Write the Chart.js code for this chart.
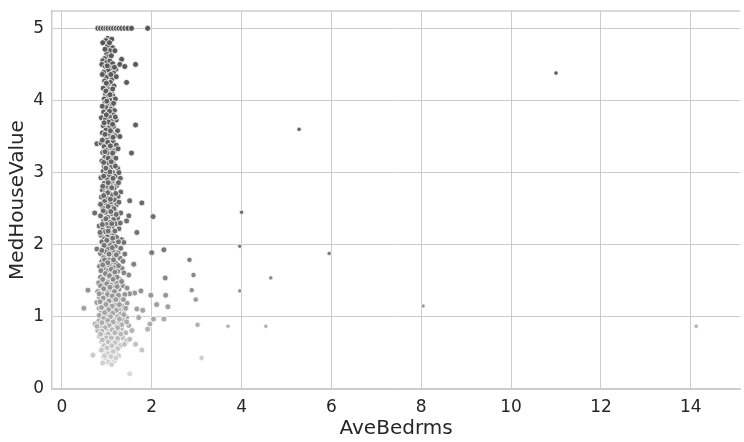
<!DOCTYPE html>
<html>
<head>
<meta charset="utf-8">
<script src="https://cdn.jsdelivr.net/npm/chart.js"></script>
<style>
  body { margin: 0; background: #fff; }
  #wrap { width: 744px; height: 442px; }
</style>
</head>
<body>
<div id="wrap"><canvas id="myChart" width="744" height="442"></canvas></div>
<script>
// tick labels
const xTicks = [0, 2, 4, 6, 8, 10, 12, 14];
const yTicks = [0, 1, 2, 3, 4, 5];

// [AveBedrms, MedHouseValue]
const cappedRow = [
    [0.80, 5.0], [0.86, 5.0], [0.92, 5.0], [0.98, 5.0], [1.03, 5.0], [1.09, 5.0], [1.15, 5.0],
    [1.21, 5.0], [1.27, 5.0], [1.33, 5.0], [1.40, 5.0], [1.47, 5.0], [1.55, 5.0], [1.91, 5.0]
];

const upperCluster = [
    [1.02, 4.86], [0.98, 4.83], [1.11, 4.85], [0.91, 4.80], [1.05, 4.78], [1.02, 4.76], [1.13, 4.73],
    [1.07, 4.69], [1.18, 4.69], [1.00, 4.65], [1.04, 4.61], [0.95, 4.58], [0.91, 4.55], [1.00, 4.53],
    [1.07, 4.55], [1.13, 4.51], [1.33, 4.57], [1.29, 4.50], [1.40, 4.47], [1.64, 4.50], [0.89, 4.50],
    [0.97, 4.47], [1.10, 4.45], [1.20, 4.43], [1.03, 4.42], [0.93, 4.39], [1.15, 4.38], [1.06, 4.35],
    [0.99, 4.32], [1.12, 4.30], [1.21, 4.33], [0.95, 4.27], [1.08, 4.25], [1.44, 4.25], [1.01, 4.21],
    [1.16, 4.20], [0.92, 4.17], [1.05, 4.15], [1.11, 4.12], [0.97, 4.09], [1.02, 4.05], [1.14, 4.06],
    [0.94, 4.02], [1.08, 4.00], [1.19, 4.02],
    [0.96, 3.97], [1.04, 3.95], [1.12, 3.93], [0.99, 3.90], [1.09, 3.88], [1.17, 3.86], [0.93, 3.84],
    [1.02, 3.82], [1.14, 3.80], [1.06, 3.77], [0.88, 3.76], [0.97, 3.74], [1.21, 3.73], [1.10, 3.71],
    [1.01, 3.68], [1.64, 3.66], [0.92, 3.65], [1.15, 3.64], [1.05, 3.62], [0.98, 3.59], [1.24, 3.58],
    [1.11, 3.56], [0.90, 3.55], [1.03, 3.53], [1.18, 3.51], [1.29, 3.50], [0.95, 3.48], [1.08, 3.47],
    [1.00, 3.45], [1.14, 3.43], [0.78, 3.40], [0.87, 3.41], [1.05, 3.39], [1.21, 3.38], [0.94, 3.36],
    [1.10, 3.34], [0.99, 3.31], [1.17, 3.30], [1.55, 3.27], [0.91, 3.28], [1.04, 3.26], [1.12, 3.23],
    [0.96, 3.21], [1.20, 3.20], [1.07, 3.18], [0.89, 3.16], [1.01, 3.13], [1.15, 3.12], [0.94, 3.09],
    [1.09, 3.07], [1.24, 3.06], [1.03, 3.04], [0.92, 3.02], [1.13, 3.00]
];

const middleCluster = [
    [0.98, 2.98], [1.06, 2.96], [1.19, 2.95], [0.87, 2.93], [1.30, 2.92], [1.01, 2.90], [1.12, 2.88],
    [0.94, 2.85], [1.08, 2.83], [1.22, 2.82], [0.99, 2.80], [1.16, 2.78], [0.90, 2.76], [1.05, 2.75],
    [1.31, 2.73], [0.96, 2.71], [1.11, 2.69], [1.25, 2.67], [0.88, 2.66], [1.02, 2.64], [1.17, 2.62],
    [1.51, 2.61], [1.78, 2.58], [0.95, 2.60], [1.08, 2.57], [0.99, 2.54], [1.21, 2.55], [1.13, 2.52],
    [0.91, 2.51], [1.04, 2.49], [1.18, 2.47], [0.73, 2.44], [1.31, 2.44], [0.97, 2.45], [1.10, 2.43],
    [1.49, 2.40], [2.03, 2.39], [0.86, 2.40], [1.02, 2.38], [1.24, 2.37], [1.15, 2.35], [1.44, 2.33],
    [0.93, 2.33], [1.07, 2.31], [0.99, 2.28], [1.20, 2.29], [0.83, 2.26], [1.12, 2.25], [1.04, 2.23],
    [0.91, 2.21], [1.27, 2.22], [1.67, 2.17], [0.96, 2.18], [1.09, 2.16], [1.16, 2.14], [0.87, 2.13],
    [1.01, 2.11], [1.22, 2.10], [0.94, 2.08], [1.06, 2.06], [1.33, 2.07], [0.89, 2.04], [1.13, 2.03],
    [1.38, 2.03], [0.99, 2.01],
    [1.08, 1.99], [1.19, 1.98], [0.78, 1.94], [0.92, 1.96], [1.03, 1.94], [2.00, 1.89], [2.27, 1.93],
    [1.14, 1.92], [0.97, 1.90], [1.25, 1.89], [1.40, 1.87], [0.86, 1.88], [1.09, 1.86], [1.01, 1.84],
    [1.17, 1.83], [0.93, 1.82], [1.30, 1.81], [2.84, 1.79], [1.05, 1.79], [0.89, 1.77], [1.12, 1.76],
    [1.21, 1.74], [1.60, 1.73], [0.98, 1.72], [1.07, 1.70], [0.84, 1.70], [1.15, 1.68], [1.34, 1.67],
    [0.95, 1.66], [1.03, 1.64], [1.24, 1.63], [0.90, 1.61], [1.11, 1.60], [1.49, 1.58], [2.93, 1.58],
    [1.00, 1.58], [1.18, 1.56], [0.86, 1.55], [2.30, 1.54], [1.06, 1.53], [1.28, 1.52], [0.94, 1.51]
];

const lowerCluster = [
    [1.13, 1.49], [1.02, 1.48], [0.82, 1.47], [1.22, 1.46], [0.91, 1.45], [1.09, 1.44], [1.36, 1.43],
    [0.98, 1.42], [1.17, 1.41], [0.87, 1.40], [1.05, 1.39], [0.58, 1.37], [2.89, 1.37], [1.27, 1.38],
    [0.94, 1.37], [1.12, 1.36], [1.76, 1.36], [0.80, 1.35], [1.01, 1.34], [1.62, 1.33], [1.21, 1.33],
    [1.51, 1.32], [1.40, 1.31], [0.90, 1.31], [2.31, 1.30], [1.98, 1.30], [1.08, 1.30], [0.97, 1.28],
    [1.16, 1.27], [0.84, 1.27], [1.30, 1.26], [1.04, 1.25], [2.98, 1.24], [0.92, 1.23], [1.12, 1.22],
    [1.24, 1.21], [0.99, 1.20], [0.78, 1.20], [1.45, 1.19], [1.07, 1.18], [2.11, 1.17], [0.88, 1.17],
    [1.19, 1.16], [1.34, 1.15], [0.95, 1.15], [2.36, 1.14], [1.02, 1.13], [0.49, 1.12], [1.14, 1.12],
    [0.83, 1.12], [1.67, 1.11], [1.27, 1.10], [0.91, 1.10], [1.80, 1.09], [1.09, 1.09], [1.38, 1.08],
    [0.98, 1.07], [1.20, 1.06], [0.86, 1.05], [1.05, 1.04], [1.31, 1.04], [0.93, 1.02], [1.15, 1.02],
    [1.01, 1.00], [1.24, 1.00],
    [1.71, 0.99], [1.44, 0.99], [0.88, 0.99], [2.04, 0.97], [2.27, 0.97], [1.10, 0.98], [0.96, 0.96],
    [1.18, 0.95], [1.36, 0.95], [0.82, 0.94], [1.04, 0.93], [1.27, 0.92], [0.74, 0.90], [1.96, 0.90],
    [3.02, 0.89], [0.92, 0.91], [1.13, 0.90], [0.99, 0.88], [1.21, 0.87], [1.49, 0.88], [0.86, 0.86],
    [1.91, 0.83], [1.07, 0.85], [1.32, 0.84], [0.95, 0.83], [1.16, 0.82], [0.80, 0.81], [1.02, 0.80],
    [1.25, 0.79], [1.42, 0.78], [0.90, 0.78], [1.10, 0.77], [0.97, 0.75], [1.19, 0.74], [0.84, 0.73],
    [1.05, 0.72], [1.35, 0.71], [0.93, 0.70], [1.14, 0.69], [1.01, 0.67], [1.44, 0.67], [1.23, 0.66],
    [0.88, 0.66], [1.08, 0.64], [1.64, 0.62], [0.96, 0.62], [1.17, 0.61], [1.30, 0.60], [1.03, 0.59],
    [0.91, 0.58], [1.11, 0.56], [1.78, 0.54], [0.99, 0.54], [1.21, 0.53], [1.06, 0.51], [0.94, 0.50],
    [0.69, 0.47], [1.14, 0.48], [1.01, 0.46], [1.26, 0.46], [0.93, 0.44], [1.08, 0.42], [0.98, 0.40],
    [1.17, 0.39], [1.04, 0.37], [0.91, 0.36], [1.11, 0.34], [1.51, 0.21]
];

// extra points where the column is densest
const clusterFill = [
    [1.06, 4.80], [0.96, 4.71], [1.10, 4.62], [1.01, 4.48], [1.17, 4.46], [0.90, 4.36], [1.09, 4.36],
    [0.99, 4.24], [1.13, 4.16], [0.98, 4.13], [1.07, 4.08], [1.00, 3.99], [1.15, 3.96], [0.90, 3.92],
    [1.06, 3.85], [0.99, 3.80], [1.19, 3.77], [1.04, 3.70], [0.94, 3.69], [1.13, 3.67], [1.08, 3.58],
    [0.96, 3.53], [1.14, 3.49], [1.02, 3.42], [0.90, 3.45], [1.08, 3.37], [1.25, 3.33], [0.96, 3.29],
    [1.13, 3.27], [1.03, 3.20], [0.93, 3.14], [1.10, 3.15], [1.19, 3.09], [0.98, 3.06], [1.07, 3.01],
    [1.27, 3.00], [0.93, 2.95], [1.14, 2.92], [1.03, 2.86], [1.26, 2.86], [0.91, 2.81], [1.11, 2.79],
    [1.02, 2.72], [1.20, 2.71], [0.93, 2.68], [1.08, 2.63], [1.27, 2.59], [0.86, 2.56], [1.03, 2.53],
    [1.16, 2.50], [0.92, 2.47], [1.09, 2.46], [1.21, 2.42], [0.98, 2.36], [1.30, 2.30], [1.11, 2.29],
    [0.90, 2.28], [1.03, 2.19], [1.18, 2.19], [0.85, 2.17], [1.13, 2.09], [1.00, 2.06], [1.26, 2.04],
    [0.94, 1.99], [1.12, 1.96], [1.31, 1.95], [0.89, 1.92], [1.05, 1.87], [1.21, 1.86], [0.95, 1.79],
    [1.15, 1.79], [1.36, 1.77], [1.02, 1.75], [0.91, 1.72], [1.26, 1.71], [1.10, 1.66], [0.87, 1.64],
    [1.18, 1.62], [1.38, 1.61], [0.97, 1.60], [1.06, 1.57], [1.23, 1.55], [0.91, 1.52], [1.14, 1.52],
    [1.33, 1.49], [1.00, 1.46], [0.86, 1.43], [1.23, 1.42], [1.07, 1.41], [0.93, 1.39], [1.45, 1.40],
    [1.17, 1.35], [0.83, 1.32], [1.02, 1.31], [1.26, 1.30], [1.12, 1.29], [0.92, 1.26], [1.37, 1.24],
    [1.20, 1.24], [1.05, 1.22], [0.85, 1.21], [0.98, 1.17], [1.28, 1.17], [1.12, 1.15], [0.88, 1.13],
    [1.42, 1.12], [1.04, 1.10], [1.21, 1.09], [0.95, 1.06], [1.13, 1.05], [1.38, 1.03], [0.83, 1.02],
    [1.08, 1.00], [1.28, 0.97], [0.93, 0.98], [1.02, 0.95], [1.44, 0.93], [1.14, 0.93], [0.89, 0.92],
    [1.33, 0.89], [1.05, 0.88], [0.78, 0.87], [1.24, 0.85], [0.96, 0.85], [1.12, 0.82], [1.56, 0.81],
    [0.89, 0.80], [1.31, 0.76], [1.03, 0.76], [1.18, 0.78], [0.86, 0.76], [0.99, 0.71], [1.24, 0.70],
    [1.10, 0.71], [0.90, 0.68], [1.51, 0.69], [1.03, 0.65], [1.18, 0.64], [0.94, 0.60], [1.11, 0.60],
    [1.39, 0.62], [1.00, 0.57], [1.24, 0.56], [0.88, 0.54], [1.14, 0.52], [1.02, 0.49], [0.95, 0.46],
    [1.20, 0.43], [1.09, 0.45]
];

const farOutliers = [
    [11.0, 4.38], [5.28, 3.60], [4.00, 2.45], [3.96, 1.98], [5.95, 1.88], [4.65, 1.54],
    [3.96, 1.36], [8.04, 1.15], [3.70, 0.87], [4.54, 0.87], [14.12, 0.87], [3.11, 0.43]
];

const allPoints = [...cappedRow, ...upperCluster, ...middleCluster, ...lowerCluster, ...clusterFill, ...farOutliers]
    .map(p => ({ x: p[0], y: p[1] }));

// grey ramp used for the hue (light = cheap, dark = expensive)
function greyFor(v) {
    const stops = [[0, 228], [0.5, 202], [1, 168], [1.5, 140], [2, 117], [3, 100], [5, 86]];
    let g = stops[stops.length - 1][1];
    for (let i = 1; i < stops.length; i++) {
        if (v <= stops[i][0]) {
            const a = stops[i - 1], b = stops[i];
            g = a[1] + (b[1] - a[1]) * (v - a[0]) / (b[0] - a[0]);
            break;
        }
    }
    g = Math.round(g);
    return `rgb(${g}, ${g}, ${g})`;
}

const spineColor = '#cccccc';
const textColor = '#262626';

const topSpine = {
    id: 'topSpine',
    afterDraw(chart) {
        const { ctx, chartArea } = chart;
        ctx.save();
        ctx.strokeStyle = spineColor;
        ctx.lineWidth = 1.5;
        ctx.beginPath();
        ctx.moveTo(chartArea.left, chartArea.top);
        ctx.lineTo(chartArea.right, chartArea.top);
        ctx.stroke();
        ctx.restore();
    }
};

// keep the plot box where the reference has it
function noScalePadding(s) {
    s.paddingTop = 0;
    s.paddingBottom = 0;
    s.paddingLeft = 0;
    s.paddingRight = 0;
}

const ctx = document.getElementById('myChart').getContext('2d');

new Chart(ctx, {
    type: 'scatter',
    data: {
        datasets: [{
            label: 'MedHouseValue',
            data: allPoints,
            backgroundColor: c => greyFor(c.raw ? c.raw.y : 0),
            borderColor: '#ffffff',
            borderWidth: 0.8,
            pointRadius: c => {
                const x = c.raw ? c.raw.x : 0;
                return x < 2.5 ? 3.0 : (x < 3.5 ? 2.7 : 2.2);
            },
            pointHoverRadius: 3.0
        }]
    },
    options: {
        responsive: false,
        animation: false,
        devicePixelRatio: 1,
        layout: { padding: { top: 11, right: 0, left: 0, bottom: 0 } },
        plugins: {
            legend: { display: false },
            tooltip: { enabled: false }
        },
        scales: {
            x: {
                type: 'linear',
                min: -0.22,
                max: 15.1,
                afterBuildTicks: s => { s.ticks = xTicks.map(v => ({ value: v })); },
                afterFit: s => { s.height = 53; noScalePadding(s); },
                grid: { color: spineColor, lineWidth: 1, drawTicks: false },
                border: { color: spineColor, width: 1.5 },
                ticks: {
                    color: textColor,
                    padding: 8,
                    maxRotation: 0,
                    font: { family: 'DejaVu Sans', size: 17 }
                },
                title: {
                    display: true,
                    text: 'AveBedrms',
                    color: textColor,
                    padding: { top: 0, bottom: 1 },
                    font: { family: 'DejaVu Sans', size: 20 }
                }
            },
            y: {
                type: 'linear',
                min: 0,
                max: 5.24,
                afterBuildTicks: s => { s.ticks = yTicks.map(v => ({ value: v })); },
                afterFit: s => { s.width = 52; noScalePadding(s); },
                grid: { color: spineColor, lineWidth: 1, drawTicks: false },
                border: { color: spineColor, width: 1.5 },
                ticks: {
                    color: textColor,
                    padding: 8,
                    font: { family: 'DejaVu Sans', size: 17 }
                },
                title: {
                    display: true,
                    text: 'MedHouseValue',
                    color: textColor,
                    padding: { top: 6, bottom: 0 },
                    font: { family: 'DejaVu Sans', size: 20 }
                }
            }
        }
    },
    plugins: [topSpine]
});
</script>
</body>
</html>
